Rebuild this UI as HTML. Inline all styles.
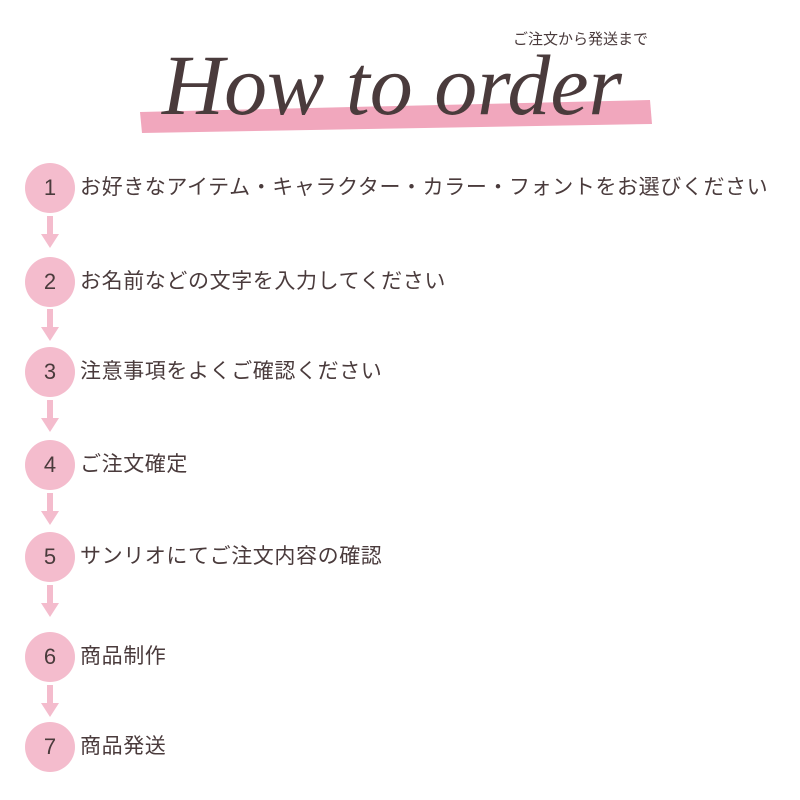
<!DOCTYPE html>
<html><head><meta charset="utf-8"><style>
body{margin:0;width:800px;height:800px;background:#fff;overflow:hidden;font-family:"Liberation Sans","Noto Sans CJK JP",sans-serif;color:#4a3b3c}
.c{position:absolute;left:25px;width:50px;height:50px;border-radius:50%;background:#f4bccd;font-size:22px;line-height:50px;text-align:center;color:#4a3b3c}
.t{position:absolute;left:80px;font-size:21px;letter-spacing:0.6px;line-height:28px;white-space:nowrap}
</style></head><body>
<svg width="800" height="800" style="position:absolute;left:0;top:0">
<polygon points="140,112 650,100 652,124 142,133" fill="#f1a7bd"/>
<text x="392" y="114" text-anchor="middle" font-family="Liberation Serif" font-style="italic" font-size="86" fill="#4a3b3c" textLength="460" lengthAdjust="spacingAndGlyphs">How to order</text>
<g fill="#f4bccd">
<rect x="47" y="216" width="6" height="20"/><polygon points="41,234 59,234 50,248"/>
<rect x="47" y="309" width="6" height="20"/><polygon points="41,327 59,327 50,341"/>
<rect x="47" y="400" width="6" height="20"/><polygon points="41,418 59,418 50,432"/>
<rect x="47" y="493" width="6" height="20"/><polygon points="41,511 59,511 50,525"/>
<rect x="47" y="585" width="6" height="20"/><polygon points="41,603 59,603 50,617"/>
<rect x="47" y="685" width="6" height="20"/><polygon points="41,703 59,703 50,717"/>
</g>
</svg>
<div style="position:absolute;left:513px;top:28px;font-size:15px">ご注文から発送まで</div>
<div class="c" style="top:163px">1</div><div class="t" style="top:174px">お好きなアイテム・キャラクター・カラー・フォントをお選びください</div>
<div class="c" style="top:257px">2</div><div class="t" style="top:268px">お名前などの文字を入力してください</div>
<div class="c" style="top:347px">3</div><div class="t" style="top:358px">注意事項をよくご確認ください</div>
<div class="c" style="top:440px">4</div><div class="t" style="top:451px">ご注文確定</div>
<div class="c" style="top:532px">5</div><div class="t" style="top:543px">サンリオにてご注文内容の確認</div>
<div class="c" style="top:632px">6</div><div class="t" style="top:643px">商品制作</div>
<div class="c" style="top:722px">7</div><div class="t" style="top:733px">商品発送</div>
</body></html>
